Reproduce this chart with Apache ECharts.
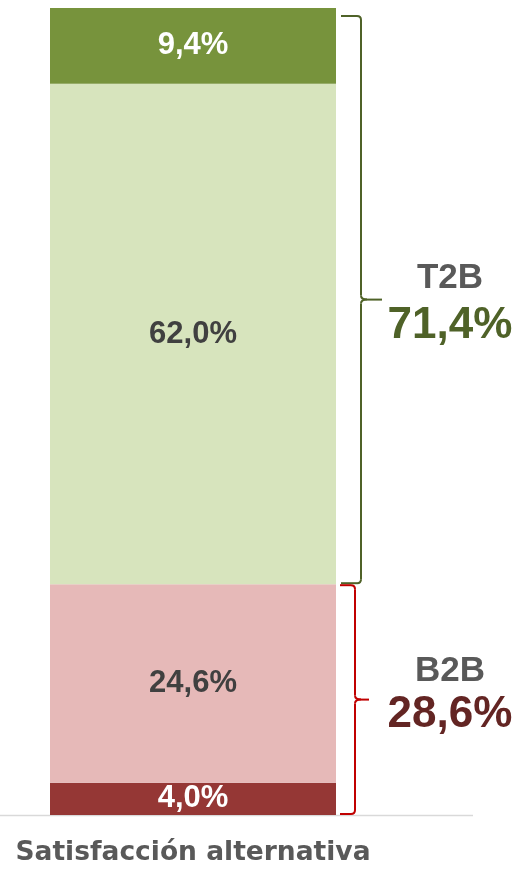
<!DOCTYPE html>
<html>
<head>
<meta charset="utf-8">
<script src="https://cdn.jsdelivr.net/npm/echarts@6/dist/echarts.min.js"></script>
<style>
  html, body { margin: 0; padding: 0; background: #fff; }
  #chart { width: 520px; height: 872px; }
</style>
</head>
<body>
<div id="chart"></div>
<script>
  // datos, de abajo hacia arriba
  var categories = ['Satisfacción alternativa'];
  var segNames = ['Muy insatisfecho', 'Insatisfecho', 'Satisfecho', 'Muy satisfecho'];
  var segValues = [4.0, 24.6, 62.0, 9.4];
  var segColors = ['#953735', '#E6B9B8', '#D7E4BD', '#77933C'];
  var labelColors = ['#ffffff', '#404040', '#404040', '#ffffff'];
  var groupNames = ['B2B', 'T2B'];
  var groupValues = [28.6, 71.4];

  var numFont = '"Liberation Sans", Arial, sans-serif';

  function fmt(v) {
    return v.toFixed(1).replace('.', ',') + '%';
  }

  var chart = echarts.init(document.getElementById('chart'));

  var series = segValues.map(function (v, i) {
    return {
      name: segNames[i],
      type: 'bar',
      stack: 'total',
      barWidth: 286,
      data: [v],
      itemStyle: { color: segColors[i] },
      label: {
        show: true,
        position: 'inside',
        color: labelColors[i],
        fontFamily: numFont,
        fontWeight: 'bold',
        fontSize: 31,
        formatter: function (p) { return fmt(p.value); }
      }
    };
  });

  chart.setOption({
    animation: false,
    grid: { left: 0, width: 386, top: 8, bottom: 57 },
    xAxis: {
      type: 'category',
      data: categories,
      axisLine: { show: false },
      axisTick: { show: false },
      axisLabel: {
        margin: 25,
        color: '#595959',
        fontFamily: '"DejaVu Sans", sans-serif',
        fontWeight: 'bold',
        fontSize: 26.5
      }
    },
    yAxis: {
      type: 'value',
      min: 0,
      max: 100,
      show: false
    },
    series: series
  });

  // llaves y totales
  var py = function (v) { return chart.convertToPixel({ yAxisIndex: 0 }, v); };
  var y0 = py(0), yMid = py(groupValues[0]), yTop = py(100);

  function brace(x0, x1, tip, top, bot, color, w) {
    var m = (top + bot) / 2;
    var st = { stroke: color, lineWidth: w, fill: null };
    var q = function (ax, ay, cx, cy, bx, by) {
      return { type: 'bezierCurve', shape: { x1: ax, y1: ay, cpx1: cx, cpy1: cy, x2: bx, y2: by }, style: st };
    };
    var l = function (ax, ay, bx, by) {
      return { type: 'line', shape: { x1: ax, y1: ay, x2: bx, y2: by }, style: st };
    };
    return {
      type: 'group',
      children: [
        l(x0, top, x1 - 4, top),
        q(x1 - 4, top, x1, top, x1, top + 4),
        l(x1, top + 4, x1, m - 4),
        q(x1, m - 4, x1, m, x1 + 6, m),
        l(x1 + 6, m, tip, m),
        q(x1 + 6, m, x1, m, x1, m + 4),
        l(x1, m + 4, x1, bot - 4),
        q(x1, bot - 4, x1, bot, x1 - 4, bot),
        l(x1 - 4, bot, x0, bot)
      ]
    };
  }

  var tMid = (yTop + 8 + yMid - 1) / 2;
  var bMid = (yMid + 1 + y0 - 1) / 2;

  chart.setOption({
    graphic: [
      {
        type: 'line',
        shape: { x1: 0, y1: y0 + 0.5, x2: 473, y2: y0 + 0.5 },
        style: { stroke: '#D9D9D9', lineWidth: 1.5 }
      },
      brace(341, 361, 382, yTop + 8, yMid - 1, '#4F6228', 2),
      brace(340, 355, 369, yMid + 1, y0 - 1, '#C00000', 2),
      {
        type: 'text', x: 450, y: tMid - 21,
        style: { text: groupNames[1], textAlign: 'center', textVerticalAlign: 'middle',
          fill: '#595959', font: 'bold 35px "Liberation Sans Narrow", sans-serif' }
      },
      {
        type: 'text', x: 450, y: tMid + 26,
        style: { text: fmt(groupValues[1]), textAlign: 'center', textVerticalAlign: 'middle',
          fill: '#4F6228', font: 'bold 44px ' + numFont }
      },
      {
        type: 'text', x: 450, y: bMid - 28,
        style: { text: groupNames[0], textAlign: 'center', textVerticalAlign: 'middle',
          fill: '#595959', font: 'bold 35px "Liberation Sans Narrow", sans-serif' }
      },
      {
        type: 'text', x: 450, y: bMid + 15,
        style: { text: fmt(groupValues[0]), textAlign: 'center', textVerticalAlign: 'middle',
          fill: '#632523', font: 'bold 44px ' + numFont }
      }
    ]
  });
</script>
</body>
</html>
